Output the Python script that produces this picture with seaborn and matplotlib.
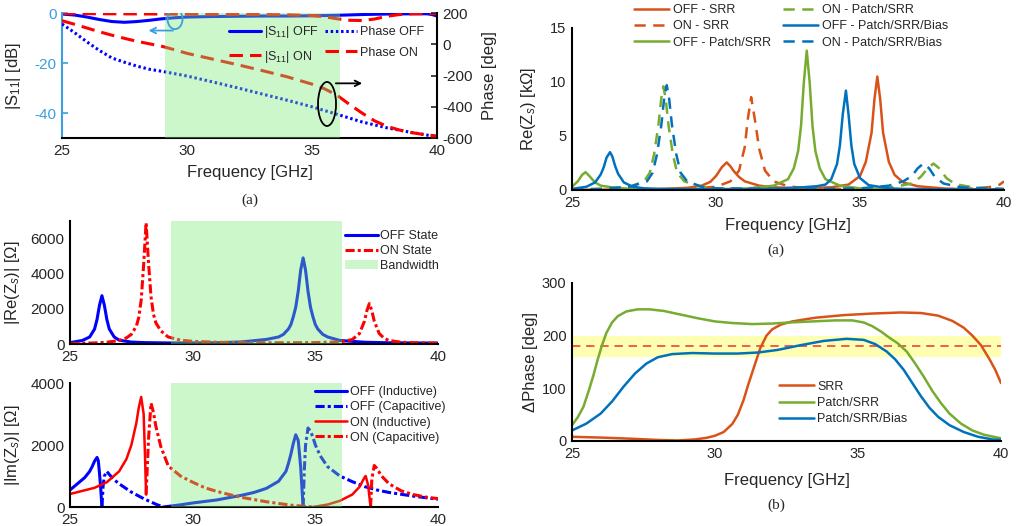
import matplotlib
matplotlib.use('Agg')
import matplotlib.pyplot as plt
from matplotlib.patches import Ellipse, Patch
import seaborn as sns

# ---------------- data: S11 magnitude / phase (top left) ----------------
s11_off_f = [25, 25.5, 26, 26.5, 27, 27.5, 28, 28.5, 29, 29.5, 30, 31, 32, 33, 34, 35, 36, 37, 38, 39, 39.6, 39.8, 40]
s11_off = [-0.4, -0.8, -1.6, -2.6, -3.4, -3.7, -3.4, -2.9, -2.3, -1.9, -1.6, -1.4, -1.3, -1.2, -1.2, -1.1, -0.9, -0.6, -0.4, -0.3, -0.3, -0.6, -1.2]
s11_on_f = [25, 27, 29, 31, 33, 34, 35, 35.5, 36, 36.5, 37, 37.5, 38, 38.5, 39, 40]
s11_on = [-0.2, -0.3, -0.4, -0.5, -0.6, -0.7, -1.0, -1.5, -2.3, -2.9, -3.0, -2.4, -1.3, -0.6, -0.3, -0.2]
ph_off_f = [25, 25.5, 26, 26.5, 27, 27.5, 28, 28.5, 29, 30, 31, 32, 33, 34, 35, 36, 37, 38, 39, 40]
ph_off = [130, 75, 15, -40, -88, -115, -140, -160, -173, -203, -240, -278, -318, -358, -400, -448, -497, -535, -565, -592]
ph_on_f = [25, 25.5, 26, 26.5, 27, 27.5, 28, 28.5, 29, 29.5, 30, 31, 32, 33, 34, 35, 35.5, 36, 36.5, 37, 37.5, 38, 38.5, 39, 39.5, 40]
ph_on = [151, 128, 104, 80, 58, 38, 19, 3, -13, -35, -58, -94, -130, -168, -208, -255, -285, -326, -385, -440, -490, -525, -549, -566, -578, -587]

# ---------------- data: |Re(Zs)| (middle left) ----------------
re_off_f = [25, 25.5, 25.8, 26.0, 26.1, 26.2, 26.3, 26.4, 26.5, 26.6, 26.8, 27.0, 27.5, 28, 29, 30, 31, 32, 33, 33.5,
            33.7, 33.9, 34.0, 34.1, 34.2, 34.3, 34.4, 34.5, 34.6, 34.7, 34.8, 34.9, 35.0, 35.1, 35.3, 35.5, 36, 37, 38, 40]
re_off = [80, 200, 400, 850, 1400, 2200, 2750, 2200, 1400, 850, 400, 220, 110, 80, 60, 60, 70, 120, 260, 400,
          550, 850, 1100, 1550, 2100, 3000, 4200, 4900, 4200, 3000, 2100, 1550, 1100, 850, 550, 400, 200, 100, 70, 50]
re_on_f = [25, 26, 26.5, 27, 27.3, 27.5, 27.7, 27.8, 27.9, 28.0, 28.1, 28.2, 28.3, 28.4, 28.5, 28.7, 29.0, 29.5, 30, 31,
           32, 33, 34, 35, 36, 36.5, 36.8, 37.0, 37.1, 37.2, 37.3, 37.4, 37.6, 37.8, 38, 38.5, 39, 40]
re_on = [30, 60, 100, 200, 350, 550, 1000, 1500, 2500, 4500, 6900, 4600, 2700, 1700, 1200, 750, 400, 220, 150, 100,
         80, 70, 70, 80, 120, 250, 600, 1300, 1900, 2300, 1900, 1300, 600, 330, 200, 100, 70, 50]

# ---------------- data: |Im(Zs)| (bottom left) ----------------
im_off_ind1_f = [25, 25.3, 25.6, 25.8, 25.9, 26.0, 26.1, 26.15, 26.2, 26.25, 26.3]
im_off_ind1 = [550, 750, 950, 1150, 1300, 1480, 1600, 1500, 1100, 600, 0]
im_off_cap1_f = [26.3, 26.35, 26.4, 26.5, 26.6, 26.8, 27.0, 27.5, 28.0, 28.5, 28.8]
im_off_cap1 = [0, 700, 1000, 1150, 1050, 880, 750, 480, 270, 90, 0]
im_off_ind2_f = [28.8, 29.5, 30, 31, 32, 32.5, 33, 33.5, 33.8, 33.9, 34.0, 34.1, 34.2, 34.3, 34.4, 34.5]
im_off_ind2 = [0, 70, 130, 230, 380, 470, 600, 830, 1150, 1400, 1700, 2050, 2330, 2150, 1300, 0]
im_off_cap2_f = [34.5, 34.55, 34.6, 34.7, 34.8, 34.9, 35.0, 35.2, 35.5, 36, 36.5, 37, 37.5, 38, 39, 40]
im_off_cap2 = [0, 1200, 2000, 2550, 2450, 2250, 2000, 1650, 1300, 1000, 820, 660, 550, 470, 350, 250]
im_on_ind1_f = [25, 25.5, 26, 26.5, 27, 27.3, 27.5, 27.7, 27.8, 27.9, 28.0, 28.05, 28.1]
im_on_ind1 = [420, 520, 620, 800, 1150, 1550, 2000, 2700, 3200, 3550, 3000, 1800, 400]
im_on_cap1_f = [28.1, 28.2, 28.3, 28.4, 28.5, 28.7, 29.0, 29.5, 30, 30.5, 31, 31.5, 32, 33, 34, 34.9]
im_on_cap1 = [400, 2200, 3350, 3050, 2600, 1950, 1330, 1000, 800, 620, 500, 400, 310, 170, 60, 0]
im_on_ind2_f = [34.9, 35.5, 36, 36.5, 36.8, 37.0, 37.05, 37.15, 37.25]
im_on_ind2 = [0, 80, 200, 400, 650, 950, 1000, 700, 0]
im_on_cap2_f = [37.25, 37.3, 37.4, 37.5, 37.7, 38.0, 38.5, 39, 39.5, 40]
im_on_cap2 = [0, 900, 1340, 1250, 1000, 750, 520, 400, 320, 270]

# ---------------- data: Re(Zs) in kOhm (top right) ----------------
off_srr_f = [25, 27, 28, 29, 29.5, 29.8, 30.0, 30.1, 30.2, 30.37, 30.5, 30.6, 30.8, 31.0, 31.5, 32, 33, 34, 34.6, 35.0,
             35.2, 35.4, 35.5, 35.6, 35.7, 35.8, 36.0, 36.2, 36.5, 37, 38, 39, 40]
off_srr = [0.02, 0.04, 0.08, 0.2, 0.4, 0.75, 1.3, 1.7, 2.1, 2.55, 2.2, 1.8, 1.2, 0.8, 0.4, 0.25, 0.15, 0.25, 0.5, 1.3,
           2.6, 5.3, 8.4, 10.5, 8.4, 5.3, 2.6, 1.4, 0.7, 0.35, 0.12, 0.06, 0.04]
on_srr_f = [25, 28, 29, 30, 30.5, 30.8, 31.0, 31.1, 31.22, 31.35, 31.5, 31.7, 32, 32.5, 33, 34, 36, 38, 39, 39.6, 39.85, 40]
on_srr = [0.02, 0.05, 0.1, 0.3, 0.8, 1.8, 4.0, 6.5, 8.6, 6.5, 3.8, 1.8, 0.8, 0.35, 0.2, 0.1, 0.05, 0.08, 0.15, 0.3, 0.5, 0.8]
off_ps_f = [25, 25.2, 25.35, 25.47, 25.6, 25.8, 26.0, 26.5, 27, 28, 30, 31, 32, 32.5, 32.7, 32.85, 32.95, 33.05, 33.15,
            33.25, 33.35, 33.45, 33.6, 33.8, 34.3, 35, 36, 37, 40]
off_ps = [0.3, 0.8, 1.4, 1.65, 1.3, 0.7, 0.4, 0.2, 0.12, 0.08, 0.08, 0.12, 0.4, 1.0, 2.0, 3.6, 5.9, 10.0, 12.9,
          10.0, 5.9, 3.6, 2.0, 1.0, 0.4, 0.15, 0.07, 0.05, 0.05]
on_ps_f = [25, 26, 27, 27.5, 27.7, 27.85, 28.0, 28.1, 28.17, 28.25, 28.35, 28.5, 28.65, 28.9, 29.5, 30, 32, 35, 36,
           36.8, 37.1, 37.35, 37.55, 37.75, 38.0, 38.3, 39, 40]
on_ps = [0.05, 0.1, 0.3, 0.8, 1.6, 3.3, 6.0, 8.5, 9.6, 8.5, 6.0, 3.3, 1.6, 0.8, 0.3, 0.15, 0.08, 0.08, 0.2,
         0.6, 1.2, 2.0, 2.45, 2.0, 1.1, 0.55, 0.2, 0.1]
off_psb_f = [25, 25.5, 25.8, 26.0, 26.1, 26.2, 26.32, 26.4, 26.5, 26.6, 26.8, 27.1, 27.5, 28, 30, 32, 33, 33.5, 33.8, 34.0,
             34.2, 34.3, 34.4, 34.51, 34.6, 34.7, 34.8, 35.0, 35.3, 36, 36.5, 38, 40]
off_psb = [0.1, 0.3, 0.7, 1.45, 2.1, 3.0, 3.5, 3.1, 2.2, 1.5, 0.7, 0.31, 0.15, 0.1, 0.06, 0.1, 0.25, 0.35, 0.5, 1.0,
           2.4, 4.1, 7.0, 9.2, 7.0, 4.1, 2.4, 1.1, 0.45, 0.15, 0.1, 0.06, 0.05]
on_psb_f = [25, 26, 27, 27.6, 27.8, 27.95, 28.1, 28.2, 28.29, 28.37, 28.47, 28.62, 28.77, 29.0, 29.5, 30, 33, 35, 36,
            36.5, 36.8, 37.0, 37.2, 37.4, 37.6, 37.9, 38.5, 40]
on_psb = [0.05, 0.1, 0.3, 0.8, 1.6, 3.3, 6.0, 8.5, 9.7, 8.5, 6.0, 3.3, 1.6, 0.8, 0.3, 0.15, 0.08, 0.15, 0.4,
          0.8, 1.3, 2.0, 2.45, 2.0, 1.2, 0.6, 0.25, 0.08]

# ---------------- data: delta phase (bottom right) ----------------
srr_f = [25, 26, 27, 28, 28.7, 29.3, 29.7, 30.0, 30.3, 30.6, 30.8, 31.0, 31.15, 31.35, 31.58, 31.8, 32.0, 32.3, 32.7, 33.5,
         34.5, 35.5, 36.5, 37.2, 37.8, 38.3, 38.7, 39.0, 39.3, 39.6, 39.8, 40]
srr = [8, 6.5, 4.5, 2, 1, 3, 6, 10, 17, 32, 50, 78, 105, 138, 176, 200, 212, 221, 227, 234,
       239, 242, 244, 243, 238, 228, 215, 200, 182, 155, 135, 110]
ps_f = [25, 25.2, 25.4, 25.6, 25.75, 25.9, 26.05, 26.2, 26.4, 26.6, 26.9, 27.3, 27.7, 28.2, 28.8, 29.4, 30.0, 30.6, 31.3, 32.0,
        32.6, 33.4, 34.2, 34.8, 35.2, 35.5, 35.8, 36.1, 36.4, 36.7, 37.0, 37.3, 37.6, 37.9, 38.2, 38.6, 39.0, 39.4, 40]
ps = [30, 45, 65, 98, 125, 155, 182, 205, 225, 237, 246, 250, 250, 247, 240, 233, 227, 224, 222, 223,
      225, 227, 229, 229, 225, 218, 208, 196, 185, 170, 147, 122, 95, 72, 52, 33, 20, 12, 5]
psb_f = [25, 25.5, 26.0, 26.4, 26.8, 27.2, 27.6, 28.0, 28.5, 29.2, 30.0, 30.8, 31.5, 32.2, 33.0, 33.8, 34.6, 35.2, 35.6, 36.0,
         36.3, 36.6, 36.9, 37.2, 37.5, 37.8, 38.2, 38.7, 39.2, 39.7, 40]
psb = [20, 33, 52, 75, 103, 128, 147, 159, 165, 167, 166, 166, 168, 173, 182, 190, 194, 192, 184, 170,
       155, 135, 110, 85, 63, 46, 30, 17, 8, 3, 2]

band = (29.1, 36.1)
xticks = [25, 30, 35, 40]

sns.set_style('white')
plt.rcParams['font.family'] = ['Liberation Sans', 'DejaVu Sans']
plt.rcParams['mathtext.fontset'] = 'custom'
plt.rcParams['mathtext.rm'] = 'Liberation Sans'
plt.rcParams['mathtext.it'] = 'Liberation Sans:italic'
plt.rcParams['axes.unicode_minus'] = False

BLUE, RED = '#0000ff', '#ff0000'
M_OR, M_GR, M_BL = '#D95319', '#77AC30', '#0072BD'
SKY = '#3b9ee0'
GREEN_BAND = (0.47, 0.92, 0.47)


def line(ax, f, v, color, ls='-', lw=2.2, label=None, z=2):
    sns.lineplot(x=f, y=v, ax=ax, color=color, linestyle=ls, linewidth=lw, label=label,
                 legend=False, sort=False, estimator=None, zorder=z)
    return ax.lines[-1]


def tidy(ax, ticksize=11):
    ax.spines['top'].set_visible(False)
    ax.spines['right'].set_visible(False)
    for s in ['left', 'bottom']:
        ax.spines[s].set_linewidth(1.5)
        ax.spines[s].set_color('black')
    ax.tick_params(direction='in', length=4, width=1.2, labelsize=ticksize, pad=4)
    ax.set_xlim(25, 40)
    ax.set_xticks(xticks)


fig = plt.figure(figsize=(10.18, 5.26), dpi=100)

# ---------- top left: S11 ----------
ax1 = fig.add_axes([0.0609, 0.7376, 0.3684, 0.2376])
ax2 = ax1.twinx()
h1 = line(ax1, s11_off_f, s11_off, BLUE, '-', label='|S$_{11}$| OFF')
h2 = line(ax1, s11_on_f, s11_on, RED, (0, (4.4, 2.3)), label='|S$_{11}$| ON')
h3 = line(ax2, ph_off_f, ph_off, BLUE, (0, (0.8, 0.9)), label='Phase OFF')
h4 = line(ax2, ph_on_f, ph_on, RED, (0, (4.4, 2.3)), label='Phase ON')
ax2.axvspan(*band, color=GREEN_BAND, alpha=0.38, lw=0, zorder=3)
tidy(ax1)
ax1.set_ylim(-50, 0)
ax1.set_yticks([0, -20, -40])
ax1.spines['left'].set_color(SKY)
ax1.tick_params(axis='y', colors=SKY)
ax2.set_ylim(-600, 200)
ax2.set_yticks([200, 0, -200, -400, -600])
ax2.set_xlim(25, 40)
for s in ['top', 'left', 'bottom']:
    ax2.spines[s].set_visible(False)
ax2.spines['right'].set_linewidth(1.5)
ax2.spines['right'].set_color('black')
ax2.tick_params(direction='in', length=4, width=1.2, labelsize=11)
ax1.set_xlabel('Frequency [GHz]', fontsize=12)
ax1.xaxis.set_label_coords(0.5, -0.216)
ax1.set_ylabel('|S$_{11}$| [dB]', fontsize=12)
ax1.yaxis.set_label_coords(-0.104, 0.5)
ax2.set_ylabel('Phase [deg]', fontsize=12)
ax2.yaxis.set_label_coords(1.12, 0.5)
ax2.add_patch(Ellipse((29.52, 161), 0.6, 128, fill=False, edgecolor=SKY, lw=1.3, zorder=4))
ax2.annotate('', xy=(28.35, 88), xytext=(29.55, 88),
             arrowprops=dict(arrowstyle='->', color=SKY, lw=1.3), zorder=4)
ax2.add_patch(Ellipse((35.6, -382), 0.72, 282, fill=False, edgecolor='black', lw=1.3, zorder=4))
ax2.annotate('', xy=(37.12, -250), xytext=(35.84, -250),
             arrowprops=dict(arrowstyle='->', color='black', lw=1.3), zorder=4)
leg = ax2.legend([h1, h2, h3, h4], [h.get_label() for h in [h1, h2, h3, h4]], ncol=2, frameon=False,
                 fontsize=9, loc='center', bbox_to_anchor=(0.705, 0.75), handlelength=2.6,
                 handletextpad=0.2, columnspacing=0.5, labelspacing=0.7)
leg.set_zorder(6)
fig.text(0.2456, 0.6198, '(a)', ha='center', va='center', fontsize=11, family='Liberation Serif')

# ---------- middle left: |Re(Zs)| ----------
ax3 = fig.add_axes([0.0688, 0.346, 0.3615, 0.2338])
g1 = line(ax3, re_off_f, re_off, BLUE, '-', label='OFF State')
g2 = line(ax3, re_on_f, re_on, RED, (0, (3, 1, 1, 1)), label='ON State')
ax3.axvspan(*band, color=GREEN_BAND, alpha=0.38, lw=0, zorder=3)
tidy(ax3)
ax3.set_ylim(0, 7000)
ax3.set_yticks([0, 2000, 4000, 6000])
ax3.set_ylabel('|Re(Z$_s$)| [Ω]', fontsize=12)
ax3.yaxis.set_label_coords(-0.13, 0.5)
ax3.legend([g1, g2, Patch(facecolor=GREEN_BAND, alpha=0.38, lw=0)], ['OFF State', 'ON State', 'Bandwidth'],
           frameon=False, fontsize=9, loc='center', bbox_to_anchor=(0.875, 0.756), handlelength=2.6,
           handletextpad=0.2, labelspacing=0.25)

# ---------- bottom left: |Im(Zs)| ----------
ax4 = fig.add_axes([0.0688, 0.0361, 0.3615, 0.2357])
dd = (0, (3, 1, 1, 1))
k1 = line(ax4, im_off_ind1_f, im_off_ind1, BLUE, '-', label='OFF (Inductive)')
line(ax4, im_off_ind2_f, im_off_ind2, BLUE, '-')
k2 = line(ax4, im_off_cap1_f, im_off_cap1, BLUE, dd, label='OFF (Capacitive)')
line(ax4, im_off_cap2_f, im_off_cap2, BLUE, dd)
k3 = line(ax4, im_on_ind1_f, im_on_ind1, RED, '-', lw=1.8, label='ON (Inductive)')
line(ax4, im_on_ind2_f, im_on_ind2, RED, '-', lw=1.8)
k4 = line(ax4, im_on_cap1_f, im_on_cap1, RED, dd, label='ON (Capacitive)')
line(ax4, im_on_cap2_f, im_on_cap2, RED, dd)
ax4.axvspan(*band, color=GREEN_BAND, alpha=0.38, lw=0, zorder=3)
tidy(ax4)
ax4.set_ylim(0, 4000)
ax4.set_yticks([0, 2000, 4000])
ax4.set_ylabel('|Im(Z$_s$)| [Ω]', fontsize=12)
ax4.yaxis.set_label_coords(-0.13, 0.5)
leg4 = ax4.legend([k1, k2, k3, k4], [k.get_label() for k in [k1, k2, k3, k4]], frameon=False, fontsize=9,
                  loc='center', bbox_to_anchor=(0.842, 0.742), handlelength=2.6, handletextpad=0.2,
                  labelspacing=0.25)
leg4.set_zorder(6)

# ---------- top right: Re(Zs) kOhm ----------
ax5 = fig.add_axes([0.5619, 0.6388, 0.4244, 0.308])
dsh = (0, (4.5, 3))
lines5 = [
    line(ax5, off_srr_f, off_srr, M_OR, '-', lw=1.8, label='OFF - SRR'),
    line(ax5, on_srr_f, on_srr, M_OR, dsh, lw=1.8, label='ON - SRR'),
    line(ax5, off_ps_f, off_ps, M_GR, '-', lw=1.8, label='OFF - Patch/SRR'),
    line(ax5, on_ps_f, on_ps, M_GR, dsh, lw=1.8, label='ON - Patch/SRR'),
    line(ax5, off_psb_f, off_psb, M_BL, '-', lw=1.8, label='OFF - Patch/SRR/Bias'),
    line(ax5, on_psb_f, on_psb, M_BL, dsh, lw=1.8, label='ON - Patch/SRR/Bias'),
]
tidy(ax5, ticksize=10.5)
ax5.set_ylim(0, 15)
ax5.set_yticks([0, 5, 10, 15])
ax5.set_xlabel('Frequency [GHz]', fontsize=12)
ax5.xaxis.set_label_coords(0.5, -0.173)
ax5.set_ylabel('Re(Z$_s$) [kΩ]', fontsize=12)
ax5.yaxis.set_label_coords(-0.079, 0.5)
ax5.legend(lines5, [l.get_label() for l in lines5], ncol=2, frameon=False, fontsize=9, loc='center',
           bbox_to_anchor=(0.507, 1.01), handlelength=2.8, handletextpad=0.3, columnspacing=1.0,
           labelspacing=0.35)
fig.text(0.7623, 0.5247, '(a)', ha='center', va='center', fontsize=11, family='Liberation Serif')

# ---------- bottom right: delta phase ----------
ax6 = fig.add_axes([0.5619, 0.1616, 0.4214, 0.3004])
ax6.axhspan(160, 200, color='#ffff00', alpha=0.3, lw=0, zorder=1)
ax6.axhline(180, color='#f04040', lw=1.2, ls=(0, (5, 3.5)), zorder=1.5)
lines6 = [
    line(ax6, srr_f, srr, M_OR, '-', lw=1.8, label='SRR'),
    line(ax6, ps_f, ps, M_GR, '-', lw=1.8, label='Patch/SRR'),
    line(ax6, psb_f, psb, M_BL, '-', lw=1.8, label='Patch/SRR/Bias'),
]
tidy(ax6, ticksize=10.5)
ax6.set_ylim(0, 300)
ax6.set_yticks([0, 100, 200, 300])
ax6.set_xlabel('Frequency [GHz]', fontsize=12)
ax6.xaxis.set_label_coords(0.5, -0.203)
ax6.set_ylabel('ΔPhase [deg]', fontsize=12)
ax6.yaxis.set_label_coords(-0.079, 0.5)
ax6.legend(lines6, [l.get_label() for l in lines6], frameon=False, fontsize=9, loc='center',
           bbox_to_anchor=(0.632, 0.24), handlelength=2.8, handletextpad=0.3, labelspacing=0.35)
fig.text(0.7623, 0.04, '(b)', ha='center', va='center', fontsize=11, family='Liberation Serif')

fig.savefig('out.png', dpi=100)
